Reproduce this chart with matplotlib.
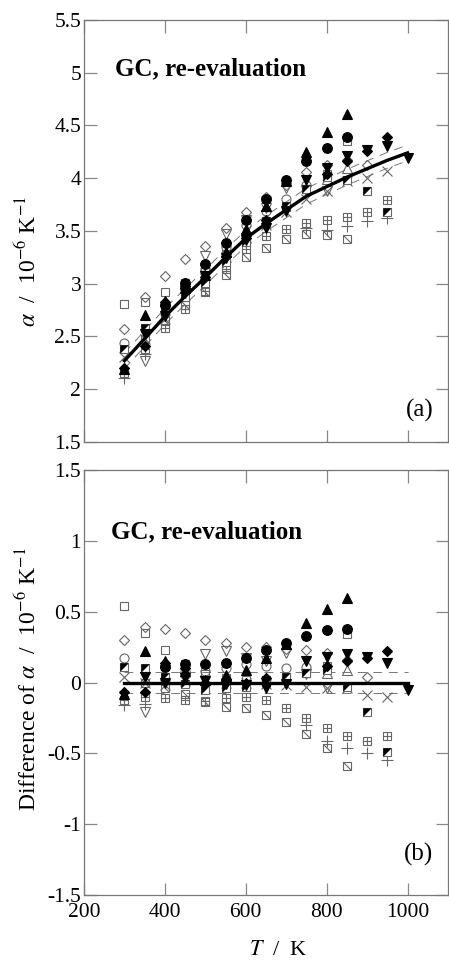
import numpy as np
import matplotlib
matplotlib.use("Agg")
import matplotlib.pyplot as plt

plt.rcParams['font.family'] = ['Liberation Serif', 'DejaVu Serif']
plt.rcParams['mathtext.fontset'] = 'stix'
plt.rcParams['axes.unicode_minus'] = False

# 温度点 (K)
T = [300, 350, 400, 450, 500, 550, 600, 650, 700, 750, 800, 850, 900, 950, 1000]
# 参考曲线 alpha (10^-6 K^-1)
ref_alpha = [2.27, 2.48, 2.69, 2.88, 3.06, 3.25, 3.43, 3.57, 3.70, 3.83, 3.92, 4.01, 4.09, 4.17, 4.24]
band = 0.075

nan = np.nan
# 各数据组与参考曲线之差
sq_diag = [nan, 0.00, -0.04, -0.08, -0.14, -0.17, -0.18, -0.23, -0.28, -0.36, -0.46, -0.59, nan, nan, nan]
sq_plus = [-0.12, -0.10, -0.11, -0.12, -0.13, -0.11, -0.10, -0.12, -0.18, -0.25, -0.32, -0.38, -0.41, -0.38, nan]
plus = [-0.16, -0.15, nan, nan, nan, nan, nan, nan, nan, -0.30, -0.41, -0.46, -0.50, -0.55, nan]
cross = [0.04, 0.00, -0.02, 0.01, 0.02, 0.00, 0.00, -0.01, -0.02, -0.03, -0.04, -0.04, -0.09, -0.10, nan]
sq_open = [0.54, 0.35, 0.23, 0.13, 0.06, 0.03, 0.02, 0.00, 0.03, 0.07, 0.12, 0.34, nan, nan, nan]
diamond_open = [0.30, 0.39, 0.38, 0.35, 0.30, 0.28, 0.25, 0.25, 0.24, 0.23, 0.21, 0.16, 0.04, nan, nan]
tri_down_open = [nan, -0.21, nan, 0.04, 0.20, 0.22, 0.17, 0.15, 0.21, 0.06, -0.04, nan, nan, nan, nan]
tri_up_open = [nan, nan, nan, nan, nan, nan, nan, nan, nan, nan, 0.07, 0.09, nan, nan, nan]
circle_open = [0.17, nan, nan, 0.08, 0.08, 0.10, 0.13, 0.12, 0.10, 0.11, nan, nan, nan, nan, nan]
half_sq = [0.11, 0.10, 0.04, -0.01, -0.05, -0.04, -0.03, 0.02, 0.04, 0.07, 0.09, -0.03, -0.21, -0.49, nan]
tri_down_filled = [nan, 0.04, 0.00, 0.03, 0.01, -0.01, -0.02, -0.04, -0.01, 0.15, 0.18, 0.20, 0.18, 0.14, -0.05]
diamond_filled = [-0.07, -0.07, 0.14, 0.10, 0.00, 0.01, 0.00, 0.03, nan, nan, 0.12, 0.15, 0.17, 0.22, nan]
circle_filled = [nan, nan, 0.11, 0.13, 0.13, 0.14, 0.17, 0.23, 0.28, 0.33, 0.37, 0.38, nan, nan, nan]
tri_up_filled = [-0.08, 0.22, 0.15, 0.08, 0.02, 0.05, 0.09, 0.17, 0.27, 0.42, 0.52, 0.60, nan, nan, nan]

GRAY = '#666666'
tri_ul = [(-1, 1), (1, 1), (-1, -1), (-1, 1)]
diag = [(-1, 1), (1, -1)]

layers = [
    (sq_diag, [dict(marker='s', mfc='none', mec=GRAY), dict(marker=diag, mfc='none', mec=GRAY)]),
    (sq_plus, [dict(marker='s', mfc='none', mec=GRAY), dict(marker='+', mec=GRAY)]),
    (plus, [dict(marker='+', mec=GRAY, ms=8)]),
    (cross, [dict(marker='x', mec=GRAY, ms=7)]),
    (sq_open, [dict(marker='s', mfc='none', mec=GRAY)]),
    (diamond_open, [dict(marker='D', mfc='none', mec=GRAY, ms=5)]),
    (tri_down_open, [dict(marker='v', mfc='none', mec=GRAY, ms=7)]),
    (tri_up_open, [dict(marker='^', mfc='none', mec=GRAY, ms=7)]),
    (circle_open, [dict(marker='o', mfc='none', mec=GRAY, ms=6.5)]),
    (half_sq, [dict(marker='s', mfc='white', mec=GRAY), dict(marker=tri_ul, mfc='black', mec='black', mew=0)]),
    (tri_down_filled, [dict(marker='v', mfc='black', mec='black', ms=7)]),
    (diamond_filled, [dict(marker='D', mfc='black', mec='black', ms=5)]),
    (circle_filled, [dict(marker='o', mfc='black', mec='black', ms=7)]),
    (tri_up_filled, [dict(marker='^', mfc='black', mec='black', ms=7)]),
]

fig = plt.figure(figsize=(4.49, 9.6), dpi=100)
ax1 = fig.add_axes([0.1871, 0.5396, 0.8107, 0.4396])
ax2 = fig.add_axes([0.1871, 0.0677, 0.8107, 0.4427])

ref = np.array(ref_alpha)
zero = np.zeros(len(T))

for ax, base in [(ax1, ref), (ax2, zero)]:
    for vals, lay in layers:
        y = base + np.array(vals)
        for st in lay:
            kw = dict(ms=6, mew=0.8, ls='none')
            kw.update(st)
            ax.plot(T, y, zorder=3, **kw)
    ax.plot(T, base, color='black', lw=2.4, zorder=4)
    ax.plot(T, base + band, color='#777777', lw=0.7, dashes=(9, 7), zorder=2)
    ax.plot(T, base - band, color='#777777', lw=0.7, dashes=(9, 7), zorder=2)

    ax.set_xlim(200, 1100)
    ax.set_xticks([200, 400, 600, 800, 1000])
    ax.tick_params(direction='in', length=9, width=0.9, color='#888888',
                   top=True, right=True, labelsize=15.5, pad=2)
    ax.tick_params(axis='x', pad=6)
    for s in ax.spines.values():
        s.set_color('#777777')
        s.set_linewidth(0.9)

ax1.set_ylim(1.5, 5.5)
ax1.set_yticks(np.arange(1.5, 5.51, 0.5))
ax1.set_yticklabels(['1.5', '2', '2.5', '3', '3.5', '4', '4.5', '5', '5.5'])
ax1.tick_params(labelbottom=False)

ax2.set_ylim(-1.5, 1.5)
ax2.set_yticks(np.arange(-1.5, 1.51, 0.5))
ax2.set_yticklabels(['-1.5', '-1', '-0.5', '0', '0.5', '1', '1.5'])
ax2.set_xticklabels(['200', '400', '600', '800', '1000'])

ax1.text(0.085, 0.885, 'GC, re-evaluation', transform=ax1.transAxes,
         fontsize=18, fontweight='bold', va='center', ha='left')
ax2.text(0.075, 0.855, 'GC, re-evaluation', transform=ax2.transAxes,
         fontsize=18, fontweight='bold', va='center', ha='left')
ax1.text(0.96, 0.075, '(a)', transform=ax1.transAxes, fontsize=18, ha='right', va='center')
ax2.text(0.96, 0.095, '(b)', transform=ax2.transAxes, fontsize=18, ha='right', va='center')

fig.text(0.064, 0.728, r'$\alpha$  /  10$^{-6}$ K$^{-1}$', rotation=90,
         ha='center', va='center', fontsize=17)
fig.text(0.064, 0.292, r'Difference of $\alpha$  /  10$^{-6}$ K$^{-1}$', rotation=90,
         ha='center', va='center', fontsize=17)
fig.text(0.619, 0.010, r'$T$  /  K', ha='center', va='center', fontsize=16)

plt.savefig('out.png', dpi=100)
